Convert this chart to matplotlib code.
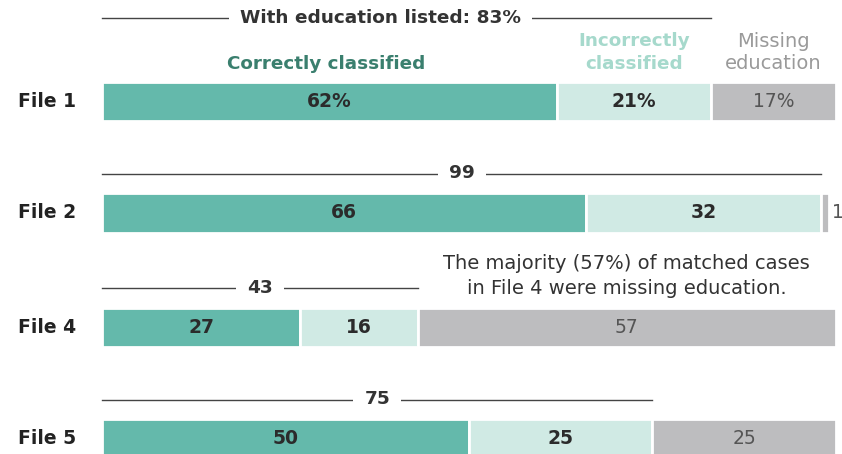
import matplotlib
matplotlib.use('Agg')
import matplotlib.pyplot as plt

files = ['File 1', 'File 2', 'File 4', 'File 5']
correct = [62, 66, 27, 50]
incorrect = [21, 32, 16, 25]
missing = [17, 1, 57, 25]
with_edu = ['With education listed: 83%', '99', '43', '75']
correct_lbl = ['62%', '66', '27', '50']
incorrect_lbl = ['21%', '32', '16', '25']
missing_lbl = ['17%', '1', '57', '25']

plt.rcParams['font.family'] = ['DejaVu Sans']

c_teal = '#64b9ab'
c_light = '#d0eae4'
c_gray = '#bdbdbf'

fig = plt.figure(figsize=(8.42, 4.54), dpi=100)
ax = fig.add_axes([0, 0, 1, 1])
px = 7.34  # pixels per percentage point
ax.set_xlim(-102 / px, (842 - 102) / px)
ax.set_ylim(454, 0)
ax.axis('off')

yc = [101.5, 213, 327.5, 439]
h = 37
gap = [65, 21, 21, 21]
lw = 2.0  # white separators between segments

for i in range(len(files)):
    y = yc[i]
    left = 0
    for val, col in [(correct[i], c_teal), (incorrect[i], c_light), (missing[i], c_gray)]:
        ax.barh(y, val, left=left, height=h + lw * 1.39, color=col, edgecolor='white', linewidth=lw)
        left += val
    ax.text(-84 / px, y, files[i], ha='left', va='center', fontsize=13.5, fontweight='bold', color='#222222')
    ax.text(correct[i] / 2, y, correct_lbl[i], ha='center', va='center', fontsize=13.5, fontweight='bold', color='#2b2b2b')
    ax.text(correct[i] + incorrect[i] / 2, y, incorrect_lbl[i], ha='center', va='center', fontsize=13.5, fontweight='bold', color='#2b2b2b')
    if missing[i] > 5:
        ax.text(correct[i] + incorrect[i] + missing[i] / 2, y, missing_lbl[i], ha='center', va='center', fontsize=13.5, color='#555555')
    else:
        ax.text(correct[i] + incorrect[i] + missing[i] + 1.2, y, missing_lbl[i], ha='center', va='center', fontsize=13.5, color='#555555')

    # bracket over the share with education listed
    total = correct[i] + incorrect[i]
    ly = y - h / 2 - gap[i]
    tx = total / 2 if i else 37.9
    ax.text(tx, ly, with_edu[i], ha='center', va='center', fontsize=13.3, fontweight='bold', color='#333333',
            bbox=dict(facecolor='white', edgecolor='none', pad=8))
    ax.plot([0, total], [ly, ly], color='#444444', linewidth=1, zorder=0)

ax.text(correct[0] * 0.5 - 0.5, 64, 'Correctly classified', ha='center', va='center', fontsize=13.2,
        fontweight='bold', color='#3a7f6e')
ax.text(correct[0] + incorrect[0] / 2, 52.5, 'Incorrectly\nclassified', ha='center', va='center', fontsize=13.2,
        fontweight='bold', color='#a6d9cc', linespacing=1.3)
ax.text(correct[0] + incorrect[0] + missing[0] / 2, 52.5, 'Missing\neducation', ha='center', va='center', fontsize=14,
        color='#9a9a9a', linespacing=1.25)
ax.text(71.5, 276, 'The majority (57%) of matched cases\nin File 4 were missing education.', ha='center',
        va='center', fontsize=14, color='#333333', linespacing=1.35)

fig.savefig('out.png', dpi=100)
